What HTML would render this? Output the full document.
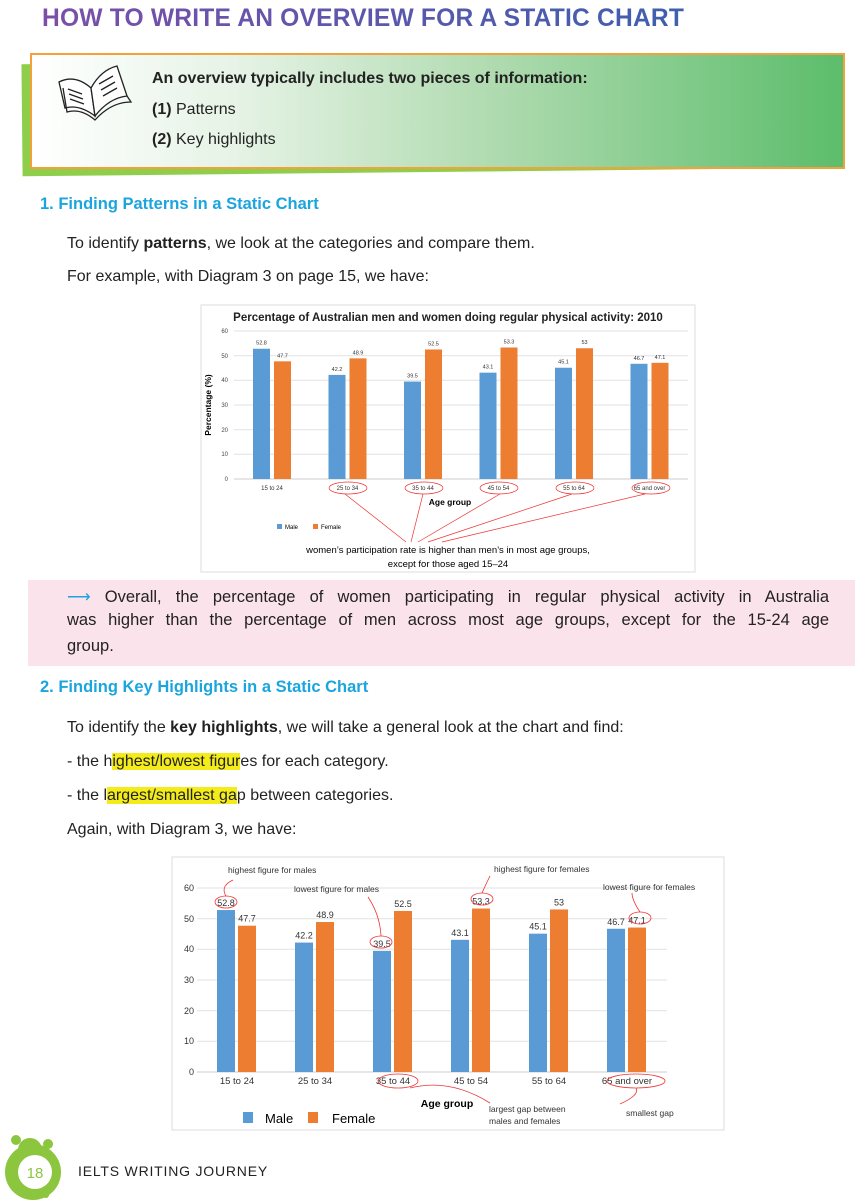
<!DOCTYPE html>
<html><head><meta charset="utf-8"><style>
body{margin:0;width:855px;height:1200px;position:relative;background:#fff;font-family:"Liberation Sans",sans-serif;color:#222;overflow:hidden}
.a{position:absolute;white-space:nowrap}
.t{font-size:16px}
.h2{color:#1ba5df;font-weight:bold;font-size:16.5px}
.hl{background:#f4ec1a}
.j{position:absolute;left:67px;width:762px;font-size:16.5px;text-align:justify;text-align-last:justify;white-space:nowrap}
</style></head><body>
<div class="a" style="left:42px;top:5px;font-size:24.6px;font-weight:bold;letter-spacing:0.2px;background:linear-gradient(90deg,#7b4fa8,#3f5fae);-webkit-background-clip:text;color:transparent">HOW TO WRITE AN OVERVIEW FOR A STATIC CHART</div>
<div class="a" style="left:22px;top:60px;width:822px;height:112px;background:#8fce4a;transform:rotate(-0.6deg)"></div>
<div class="a" style="left:30px;top:53px;width:811px;height:112px;border:2px solid #f3a23a;background:linear-gradient(90deg,#fff 0%,#e6f3e6 25%,#b3dcb3 55%,#5cbd6b 100%)"></div>
<svg class="a" style="left:55px;top:62px" width="80" height="60" viewBox="0 0 80 60" fill="none" stroke="#222" stroke-width="1.3"><path d="M4 20 Q20 12 36 26 L40 54 Q24 42 10 46 Z" fill="#fff"/><path d="M36 26 Q46 8 62 4 L72 34 Q54 36 40 54 Z" fill="#fff"/><path d="M8 26 L12 50 Q26 46 40 58 Q56 40 76 40 L72 34"/><path d="M13 27l14 5M14 32l14 5M15 37l14 5M44 22l14-8M46 28l14-8M48 34l14-8"/></svg>
<div class="a t" style="left:152px;top:70px;font-weight:bold">An overview typically includes two pieces of information:</div>
<div class="a t" style="left:152px;top:101px"><b>(1)</b> Patterns</div>
<div class="a t" style="left:152px;top:131px"><b>(2)</b> Key highlights</div>
<div class="a h2" style="left:40px;top:195px">1. Finding Patterns in a Static Chart</div>
<div class="a t" style="left:67px;top:235px">To identify <b>patterns</b>, we look at the categories and compare them.</div>
<div class="a t" style="left:67px;top:268px">For example, with Diagram 3 on page 15, we have:</div>
<svg class="a" style="left:200px;top:304px" width="496" height="270" viewBox="200 304 496 270" font-family="Liberation Sans,sans-serif">
<rect x="201" y="305" width="494" height="267" fill="#fff" stroke="#ddd"/>
<text x="448" y="321" font-size="11.5" font-weight="bold" text-anchor="middle" fill="#222">Percentage of Australian men and women doing regular physical activity: 2010</text>
<g stroke="#e2e2e2"><line x1="234" x2="688" y1="331" y2="331"/><line x1="234" x2="688" y1="355.7" y2="355.7"/><line x1="234" x2="688" y1="380.3" y2="380.3"/><line x1="234" x2="688" y1="405" y2="405"/><line x1="234" x2="688" y1="429.7" y2="429.7"/><line x1="234" x2="688" y1="454.3" y2="454.3"/><line x1="234" x2="688" y1="479" y2="479" stroke="#ccc"/></g>
<g font-size="6" fill="#444" text-anchor="end"><text x="228" y="333">60</text><text x="228" y="358">50</text><text x="228" y="382">40</text><text x="228" y="407">30</text><text x="228" y="432">20</text><text x="228" y="456">10</text><text x="228" y="481">0</text></g>
<text transform="translate(211,405) rotate(-90)" font-size="8.5" font-weight="bold" text-anchor="middle">Percentage (%)</text>
<g id="c1"></g>
<text x="450" y="505" font-size="8.5" font-weight="bold" text-anchor="middle">Age group</text>
<rect x="277" y="524" width="5" height="5" fill="#5a9bd5"/><text x="285" y="529" font-size="6">Male</text>
<rect x="313" y="524" width="5" height="5" fill="#ed7d31"/><text x="321" y="529" font-size="6">Female</text>
<g stroke="#e33" fill="none" stroke-width="0.7"><ellipse cx="348" cy="488" rx="19" ry="6"/><ellipse cx="424" cy="488" rx="19" ry="6"/><ellipse cx="499" cy="488" rx="19" ry="6"/><ellipse cx="575" cy="488" rx="19" ry="6"/><ellipse cx="651" cy="488" rx="19" ry="6"/>
<path d="M345 494L406 542M423 494L411 542M500 494L418 542M572 494L428 542M645 494L442 542"/></g>
<text x="448" y="553" font-size="9.5" text-anchor="middle">women’s participation rate is higher than men’s in most age groups,</text>
<text x="448" y="567" font-size="9.5" text-anchor="middle">except for those aged 15–24</text>
</svg>
<div class="a" style="left:28px;top:580px;width:827px;height:86px;background:#fbe3ec"></div>
<div class="j" style="top:587px"><span style="color:#1ba5df">⟶</span> Overall, the percentage of women participating in regular physical activity in Australia</div>
<div class="j" style="top:611px">was higher than the percentage of men across most age groups, except for the 15-24 age</div>
<div class="a" style="left:67px;top:637px;font-size:16.5px">group.</div>
<div class="a h2" style="left:40px;top:678px">2. Finding Key Highlights in a Static Chart</div>
<div class="a t" style="left:67px;top:719px">To identify the <b>key highlights</b>, we will take a general look at the chart and find:</div>
<div class="a t" style="left:67px;top:753px">- the h<span class="hl">ighest/lowest figur</span>es for each category.</div>
<div class="a t" style="left:67px;top:787px">- the l<span class="hl">argest/smallest ga</span>p between categories.</div>
<div class="a t" style="left:67px;top:821px">Again, with Diagram 3, we have:</div>
<svg class="a" style="left:171px;top:856px" width="555" height="276" viewBox="171 856 555 276" font-family="Liberation Sans,sans-serif">
<rect x="172" y="857" width="552" height="273" fill="#fff" stroke="#ddd"/>
<g stroke="#e2e2e2"><line x1="197" x2="667" y1="888" y2="888"/><line x1="197" x2="667" y1="918.7" y2="918.7"/><line x1="197" x2="667" y1="949.3" y2="949.3"/><line x1="197" x2="667" y1="980" y2="980"/><line x1="197" x2="667" y1="1010.7" y2="1010.7"/><line x1="197" x2="667" y1="1041.3" y2="1041.3"/><line x1="197" x2="667" y1="1072" y2="1072" stroke="#ccc"/></g>
<g font-size="9" fill="#333" text-anchor="end"><text x="194" y="891">60</text><text x="194" y="922">50</text><text x="194" y="952">40</text><text x="194" y="983">30</text><text x="194" y="1014">20</text><text x="194" y="1044">10</text><text x="194" y="1075">0</text></g>
<g id="c2"></g>
<text x="447" y="1107" font-size="10.5" font-weight="bold" text-anchor="middle">Age group</text>
<rect x="243" y="1112" width="10" height="11" fill="#5a9bd5"/><text x="265" y="1123" font-size="13">Male</text>
<rect x="308" y="1112" width="10" height="11" fill="#ed7d31"/><text x="332" y="1123" font-size="13">Female</text>
<g font-size="8.5" fill="#333"><text x="228" y="873">highest figure for males</text><text x="294" y="892">lowest figure for males</text><text x="494" y="872">highest figure for females</text><text x="603" y="890">lowest figure for females</text><text x="489" y="1112">largest gap between</text><text x="489" y="1124">males and females</text><text x="626" y="1116">smallest gap</text></g>
<g stroke="#e33" fill="none" stroke-width="0.8"><ellipse cx="226" cy="902" rx="11" ry="6"/><ellipse cx="381" cy="942" rx="11" ry="6"/><ellipse cx="482" cy="899" rx="11" ry="6"/><ellipse cx="640" cy="918" rx="11" ry="6"/><ellipse cx="398" cy="1081" rx="20" ry="7"/><ellipse cx="636" cy="1081" rx="29" ry="7"/>
<path d="M226 896 Q220 886 233 880M381 936Q380 915 368 897M482 893Q486 884 490 876M640 912Q632 900 632 893M410 1088Q450 1078 490 1103M636 1088Q640 1095 620 1104"/></g>
</svg>
<svg class="a" style="left:0;top:1132px" width="70" height="68"><circle cx="16" cy="8" r="5" fill="#8cc63f"/><circle cx="30" cy="18" r="12" fill="#8cc63f"/><circle cx="48" cy="12" r="5" fill="#8cc63f"/><circle cx="33" cy="40" r="28" fill="#8cc63f"/><circle cx="46" cy="63" r="3" fill="#8cc63f"/><circle cx="35" cy="40" r="17" fill="#fff"/><text x="35" y="46" font-size="15" text-anchor="middle" fill="#8cc63f" font-family="Liberation Sans,sans-serif">18</text></svg>
<div class="a" style="left:78px;top:1163px;font-size:14px;letter-spacing:0.8px;color:#222">IELTS WRITING JOURNEY</div>
<script>
var m=[52.8,42.2,39.5,43.1,45.1,46.7],f=[47.7,48.9,52.5,53.3,53,47.1],lab=["15 to 24","25 to 34","35 to 44","45 to 54","55 to 64","65 and over"];
function b(id,x0,gap,w,off,y0,k,fs,ls,ly,lc){var g=document.getElementById(id),s="";for(var i=0;i<6;i++){var x=x0+gap*i,hm=m[i]*k,hf=f[i]*k;
s+='<rect x="'+x+'" y="'+(y0-hm)+'" width="'+w+'" height="'+hm+'" fill="#5a9bd5"/>';
s+='<rect x="'+(x+off)+'" y="'+(y0-hf)+'" width="'+w+'" height="'+hf+'" fill="#ed7d31"/>';
s+='<text x="'+(x+w/2)+'" y="'+(y0-hm-4)+'" font-size="'+fs+'" text-anchor="middle" fill="#333">'+m[i]+'</text>';
s+='<text x="'+(x+off+w/2)+'" y="'+(y0-hf-4)+'" font-size="'+fs+'" text-anchor="middle" fill="#333">'+f[i]+'</text>';
s+='<text x="'+(x+lc)+'" y="'+ly+'" font-size="'+ls+'" text-anchor="middle" fill="#333">'+lab[i]+'</text>';}
g.innerHTML=s;}
b("c1",253,75.5,17,21,479,2.467,5.5,6,490,19);
b("c2",217,78,18,21,1072,3.067,9,9.5,1084,20);
</script>
</body></html>
